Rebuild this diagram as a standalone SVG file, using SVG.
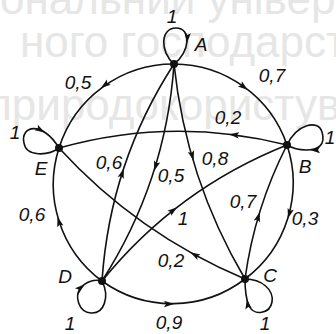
<svg xmlns="http://www.w3.org/2000/svg" xmlns:xlink="http://www.w3.org/1999/xlink" width="336" height="334" viewBox="0 0 336 334">
<style>
.wm{font-family:"Liberation Sans","DejaVu Sans",sans-serif;font-size:44px;fill:#e6e6e6}
.e{fill:none;stroke:#111;stroke-width:1.6}
.ah{fill:#111}
.lb{font-family:"Liberation Sans",Arial,sans-serif;font-style:italic;font-size:19px;fill:#111;text-anchor:middle}
.nd{fill:#111}
</style>
<defs>
<path id="ah" d="M1,0 L-9,-3.2 L-7,0 L-9,3.2 Z"/>
</defs>
<rect width="336" height="334" fill="#fff"/>
<g id="watermark">
<text class="wm" x="0" y="14">ональний університет</text>
<text class="wm" x="20" y="57">ного господарства</text>
<text class="wm" x="-12" y="120">природокористування</text>
</g>
<g id="connectors">
<path class="e" d="M174,64 A120,120 0 0 1 287,145"/>
<path class="e" d="M174,64 A120,120 0 0 0 59,148"/>
<path class="e" d="M102,281 A120,120 0 0 1 59,148"/>
<path class="e" d="M287,145 A120,120 0 0 1 245,279"/>
<path class="e" d="M102,281 A120,120 0 0 0 245,279"/>
<path class="e" d="M287,145 Q173,116 59,148"/>
<path class="e" d="M174,64 Q186,179 245,279"/>
<path class="e" d="M102,281 Q110,162.5 174,64"/>
<path class="e" d="M174,64 Q166,181 102,281"/>
<path class="e" d="M102,281 Q176.7,188.8 287,145"/>
<path class="e" d="M245,279 Q137.6,233.9 59,148"/>
<path class="e" d="M245,279 Q254.6,208.4 287,145"/>
<path class="e" d="M174,64 C160,52 160,28 176,28 C192,28 190,52 174,64"/>
<path class="e" d="M59,148 C48,156 26,157 24,143 C20,126 42,120 59,148"/>
<path class="e" d="M287,145 C297,124 318,119 322,132 C326,145 318,150 306,150 C298,150 292,148 287,145"/>
<path class="e" d="M102,281 C110,297 104,314 91,313 C78,312 75,296 80,289 C86,281 95,279 102,281"/>
<path class="e" d="M245,279 C262,279 274,290 272,302 C270,314 254,316 249,306 C246,299 245,290 245,279"/>
<use class="ah" xlink:href="#ah" transform="translate(247,89.4) rotate(38)"/>
<use class="ah" xlink:href="#ah" transform="translate(101.6,87.5) rotate(143.5)"/>
<use class="ah" xlink:href="#ah" transform="translate(57.8,217.7) rotate(-106.3)"/>
<use class="ah" xlink:href="#ah" transform="translate(288.2,217.5) rotate(106.2)"/>
<use class="ah" xlink:href="#ah" transform="translate(173,304) rotate(0)"/>
<use class="ah" xlink:href="#ah" transform="translate(230,134.3) rotate(-173.1)"/>
<use class="ah" xlink:href="#ah" transform="translate(193.4,159.8) rotate(73.8)"/>
<use class="ah" xlink:href="#ah" transform="translate(123.5,169.4) rotate(-71.8)"/>
<use class="ah" xlink:href="#ah" transform="translate(154.4,170) rotate(107.6)"/>
<use class="ah" xlink:href="#ah" transform="translate(176.4,207.8) rotate(-37.8)"/>
<use class="ah" xlink:href="#ah" transform="translate(191.1,252.8) rotate(-150.9)"/>
<use class="ah" xlink:href="#ah" transform="translate(259.5,212.9) rotate(-73)"/>
<use class="ah" xlink:href="#ah" transform="translate(187,42) rotate(94)"/>
<use class="ah" xlink:href="#ah" transform="translate(44,132) rotate(30)"/>
<use class="ah" xlink:href="#ah" transform="translate(311,150) rotate(180)"/>
<use class="ah" xlink:href="#ah" transform="translate(84,285) rotate(-39)"/>
<use class="ah" xlink:href="#ah" transform="translate(247,300) rotate(-100)"/>
</g>
<g id="edge-labels">
<text class="lb" x="78" y="89">0,5</text>
<text class="lb" x="272" y="82">0,7</text>
<text class="lb" x="228" y="124">0,2</text>
<text class="lb" x="109" y="169">0,6</text>
<text class="lb" x="171" y="182">0,5</text>
<text class="lb" x="215" y="165">0,8</text>
<text class="lb" x="243" y="208">0,7</text>
<text class="lb" x="305" y="225">0,3</text>
<text class="lb" x="32" y="221">0,6</text>
<text class="lb" x="183" y="225">1</text>
<text class="lb" x="171" y="267">0,2</text>
<text class="lb" x="169" y="329">0,9</text>
<text class="lb" x="172" y="23">1</text>
<text class="lb" x="15" y="139">1</text>
<text class="lb" x="330" y="144">1</text>
<text class="lb" x="70" y="330">1</text>
<text class="lb" x="265" y="330">1</text>
</g>
<g id="node-A"><circle class="nd" cx="174" cy="64" r="4"/><text class="lb" x="201" y="51">A</text></g>
<g id="node-B"><circle class="nd" cx="287" cy="145" r="4"/><text class="lb" x="305" y="173">B</text></g>
<g id="node-C"><circle class="nd" cx="245" cy="279" r="4"/><text class="lb" x="270" y="282">C</text></g>
<g id="node-D"><circle class="nd" cx="102" cy="281" r="4"/><text class="lb" x="65" y="283">D</text></g>
<g id="node-E"><circle class="nd" cx="59" cy="148" r="4"/><text class="lb" x="41" y="175">E</text></g>
</svg>
